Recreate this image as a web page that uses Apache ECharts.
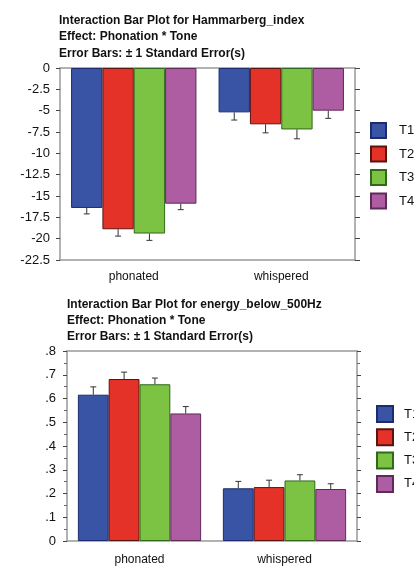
<!DOCTYPE html>
<html lang="en">
<head>
    <meta charset="UTF-8">
    <title>Interaction Bar Plots</title>
    <script src="https://cdn.jsdelivr.net/npm/echarts@6/dist/echarts.min.js"></script>
    <style>
        html, body { margin: 0; padding: 0; background: #fff; }
    </style>
</head>
<body>
<div id="demo" style="width: 414px;height: 566px;"></div>
</body>
</html>
<script>
    var tones = ['T1', 'T2', 'T3', 'T4'];
    var phonation = ['phonated', 'whispered'];
    var colors = ['#3953a5', '#e53228', '#7cc243', '#ae5da3'];
    var borders = ['#1d2c6e', '#5a1410', '#2f6a1c', '#5e2a58'];

    // Hammarberg index, per tone: [phonated, whispered]
    var hammMean = [[-16.4, -5.2], [-18.9, -6.6], [-19.4, -7.2], [-15.9, -5.0]];
    var hammSE = [[0.7, 0.9], [0.8, 1.0], [0.8, 1.1], [0.7, 0.9]];
    var hammTicks = [0, -2.5, -5, -7.5, -10, -12.5, -15, -17.5, -20, -22.5];

    // energy below 500Hz, per tone: [phonated, whispered]
    var energyMean = [[0.616, 0.222], [0.682, 0.227], [0.660, 0.255], [0.537, 0.219]];
    var energySE = [[0.033, 0.029], [0.029, 0.029], [0.026, 0.024], [0.029, 0.022]];
    var energyTicks = ['0', '.1', '.2', '.3', '.4', '.5', '.6', '.7', '.8'];

    var catGap = 0.15;
    var font = 'Liberation Sans';

    function errRender(params, api) {
        var cat = api.value(0), k = api.value(1), v = api.value(2), e = api.value(3);
        var bw = api.size([1, 0])[0] * (1 - catGap) / 4;
        var c = api.coord([cat, v]);
        var x = c[0] + (k - 1.5) * bw;
        var end = api.coord([cat, v < 0 ? v - e : v + e]);
        var st = { stroke: '#333', lineWidth: 1 };
        return {
            type: 'group',
            children: [
                { type: 'line', shape: { x1: x, y1: c[1], x2: x, y2: end[1] }, style: st },
                { type: 'line', shape: { x1: x - 3, y1: end[1], x2: x + 3, y2: end[1] }, style: st }
            ]
        };
    }

    function errData(mean, se) {
        var out = [];
        for (var k = 0; k < mean.length; k++) {
            for (var c = 0; c < mean[k].length; c++) {
                out.push([c, k, mean[k][c], se[k][c]]);
            }
        }
        return out;
    }

    var series = [];
    var chartsCfg = [
        { mean: hammMean, se: hammSE },
        { mean: energyMean, se: energySE }
    ];
    chartsCfg.forEach(function (cfg, g) {
        tones.forEach(function (t, k) {
            series.push({
                name: t,
                type: 'bar',
                xAxisIndex: g * 2,
                yAxisIndex: g * 2,
                barGap: 0,
                barCategoryGap: (catGap * 100) + '%',
                itemStyle: { color: colors[k], borderColor: borders[k], borderWidth: 1 },
                data: cfg.mean[k]
            });
        });
        series.push({
            type: 'custom',
            xAxisIndex: g * 2,
            yAxisIndex: g * 2,
            renderItem: errRender,
            data: errData(cfg.mean, cfg.se),
            z: 5
        });
    });

    var axisLine = { lineStyle: { color: '#999', width: 1.5 } };
    var tickStyle = { lineStyle: { color: '#444' } };

    function catAxes(gi, margin) {
        return [
            {
                type: 'category', gridIndex: gi, data: phonation, position: 'bottom',
                axisLine: Object.assign({ onZero: false }, axisLine),
                axisTick: { alignWithLabel: true, length: 4, lineStyle: tickStyle.lineStyle },
                axisLabel: { color: '#111', fontSize: 12, fontFamily: font, margin: margin }
            },
            {
                type: 'category', gridIndex: gi, data: phonation, position: 'top',
                axisLine: Object.assign({ onZero: false }, axisLine),
                axisTick: { alignWithLabel: true, length: 3, lineStyle: tickStyle.lineStyle },
                axisLabel: { show: false }
            }
        ];
    }

    var option = {
        animation: false,
        textStyle: { fontFamily: font },
        title: [
            {
                text: 'Interaction Bar Plot for Hammarberg_index\nEffect: Phonation * Tone\nError Bars: \u00b1 1 Standard Error(s)',
                left: 59, top: 12, padding: 0,
                textStyle: { fontSize: 12, fontWeight: 'bold', color: '#111', lineHeight: 16.5, fontFamily: font }
            },
            {
                text: 'Interaction Bar Plot for energy_below_500Hz\nEffect: Phonation * Tone\nError Bars: \u00b1 1 Standard Error(s)',
                left: 67, top: 297, padding: 0,
                textStyle: { fontSize: 12, fontWeight: 'bold', color: '#111', lineHeight: 16, fontFamily: font }
            }
        ],
        legend: [
            {
                data: tones, orient: 'vertical', left: 370, top: 122, padding: 0,
                icon: 'rect', itemWidth: 15, itemHeight: 15, itemGap: 6.5,
                textStyle: { fontSize: 13, color: '#111', padding: [0, 0, 0, 8] }
            },
            {
                data: tones, orient: 'vertical', left: 376, top: 405, padding: 0,
                icon: 'rect', itemWidth: 16, itemHeight: 16, itemGap: 5.3,
                textStyle: { fontSize: 13, color: '#111', padding: [0, 0, 0, 6] }
            }
        ],
        grid: [
            { left: 60, right: 59, top: 68, height: 192 },
            { left: 67, right: 57, top: 351, height: 192 }
        ],
        xAxis: catAxes(0, 11).concat(catAxes(1, 13)),
        yAxis: [
            {
                type: 'value', gridIndex: 0, position: 'left', min: -22.5, max: 0, interval: 2.5,
                axisLine: Object.assign({ show: true }, axisLine),
                axisTick: { show: true, length: 4, lineStyle: tickStyle.lineStyle },
                splitLine: { show: false },
                axisLabel: { color: '#111', fontSize: 13, fontFamily: font, margin: 10,
                    formatter: function (v) { return hammTicks.indexOf(v) >= 0 ? String(v) : ''; } }
            },
            {
                type: 'value', gridIndex: 0, position: 'right', min: -22.5, max: 0, interval: 2.5,
                axisLine: Object.assign({ show: true }, axisLine),
                axisTick: { show: true, length: 5, lineStyle: tickStyle.lineStyle },
                splitLine: { show: false },
                axisLabel: { show: false }
            },
            {
                type: 'value', gridIndex: 1, position: 'left', min: 0, max: 0.8, interval: 0.1,
                axisLine: Object.assign({ show: true }, axisLine),
                axisTick: { show: true, length: 4, lineStyle: tickStyle.lineStyle },
                minorTick: { show: true, splitNumber: 2, length: 3, lineStyle: { color: '#666' } },
                splitLine: { show: false },
                axisLabel: { color: '#111', fontSize: 13, fontFamily: font, margin: 11,
                    formatter: function (v) { return energyTicks[Math.round(v * 10)]; } }
            },
            {
                type: 'value', gridIndex: 1, position: 'right', min: 0, max: 0.8, interval: 0.1,
                axisLine: Object.assign({ show: true }, axisLine),
                axisTick: { show: true, length: 4, lineStyle: tickStyle.lineStyle },
                minorTick: { show: true, splitNumber: 2, length: 3, lineStyle: { color: '#666' } },
                splitLine: { show: false },
                axisLabel: { show: false }
            }
        ],
        series: series
    };

    var myChart = echarts.init(document.getElementById('demo'));
    myChart.setOption(option);
</script>
